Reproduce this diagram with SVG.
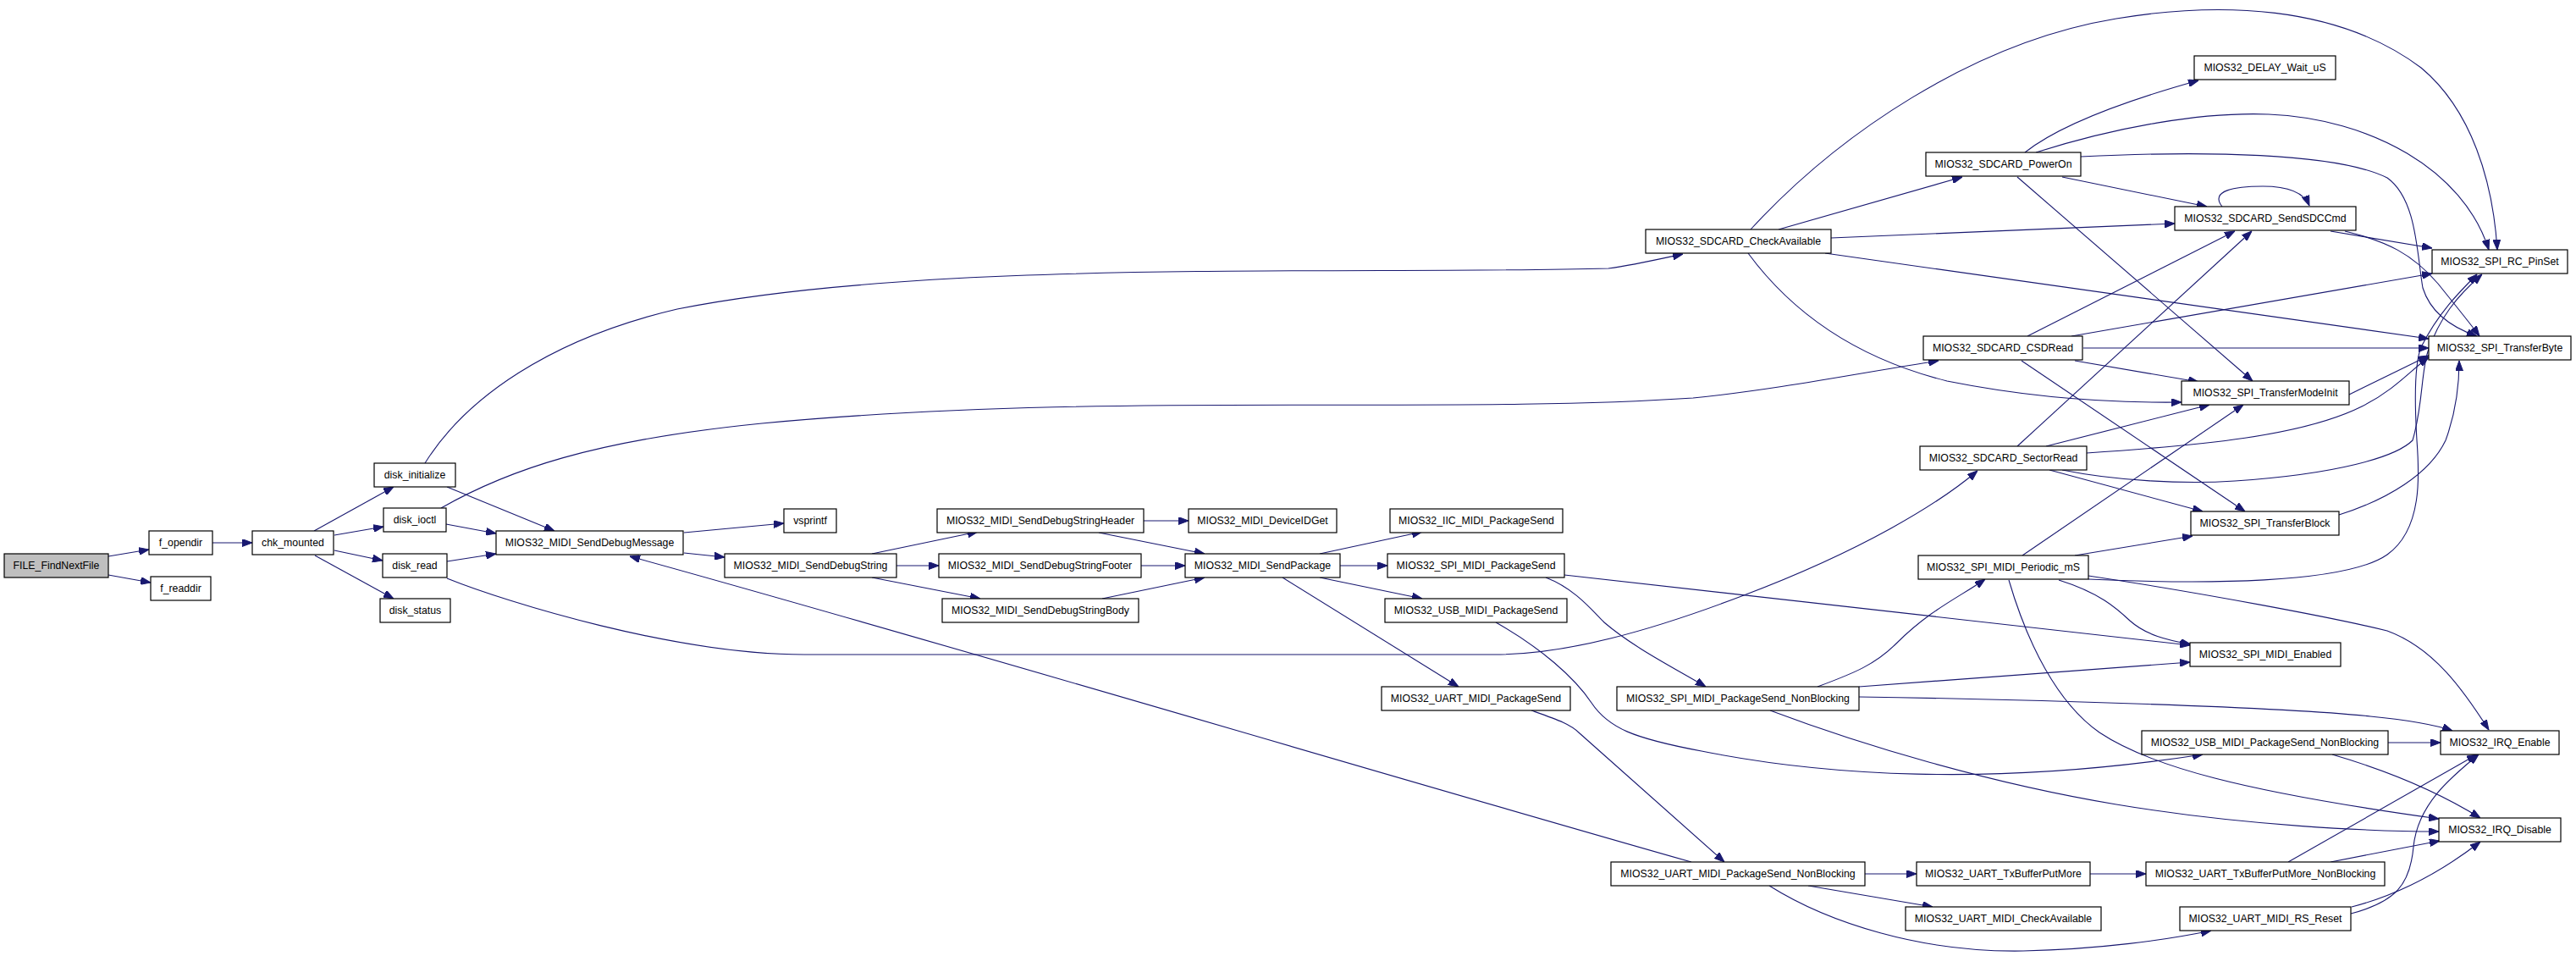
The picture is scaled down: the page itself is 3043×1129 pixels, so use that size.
<svg xmlns="http://www.w3.org/2000/svg" width="3043" height="1129" viewBox="0 0 3043 1129">
<style>
.n rect{fill:#ffffff;stroke:#000000;stroke-width:1.2}
.n text{font-family:"Liberation Sans",Arial,sans-serif;font-size:12.3px;fill:#000000;text-anchor:middle}
#n_FILE_FindNextFile rect{fill:#bfbfbf}
.e path{fill:none;stroke:#191970;stroke-width:1.1;marker-end:url(#arr)}
</style>
<defs>
<marker id="arr" markerWidth="12" markerHeight="9" refX="12" refY="4.5" orient="auto" markerUnits="userSpaceOnUse">
<path d="M0,0 L12,4.5 L0,9 z" fill="#191970" stroke="#191970" stroke-width="1"/>
</marker>
</defs>
<rect x="0" y="0" width="3043" height="1129" fill="#ffffff"/>
<g id="connectors" class="e">
<path d="M128,657 L176,649"/>
<path d="M128,679 L178,688"/>
<path d="M251,641 L298,641"/>
<path d="M371,627 L465,575"/>
<path d="M395,632 L453,622"/>
<path d="M395,650 L452,662"/>
<path d="M372,656 L465,707"/>
<path d="M528,575 L655,627"/>
<path d="M527,619 L586,630"/>
<path d="M528,663 L586,654"/>
<path d="M521,600 C600,555 700,520 900,500 C1300,462 1700,490 2000,470 C2100,460 2200,440 2290,426"/>
<path d="M502,547 C550,470 650,400 800,365 C1100,305 1600,325 1900,317 C1930,313 1960,306 1988,300"/>
<path d="M528,683 C600,712 800,773 950,773 L1766,773 C1850,773 1950,745 2060,703 C2200,650 2290,595 2336,556"/>
<path d="M808,629 L926,618"/>
<path d="M808,653 L856,658"/>
<path d="M1030,654 L1155,628"/>
<path d="M1059,668 L1109,668"/>
<path d="M1030,682 L1158,707"/>
<path d="M1351,615 L1404,615"/>
<path d="M1298,629 L1423,654"/>
<path d="M1348,668 L1400,668"/>
<path d="M1302,707 L1423,682"/>
<path d="M1559,654 L1680,628"/>
<path d="M1583,668 L1639,668"/>
<path d="M1559,682 L1680,707"/>
<path d="M1515,682 L1723,811"/>
<path d="M1848,679 L2587,762"/>
<path d="M1826,682 C1860,695 1880,720 1895,735 C1930,765 1980,790 2015,811"/>
<path d="M1767,735 C1820,765 1860,800 1880,830 C1900,860 1930,872 2010,887 C2150,915 2350,930 2602,891"/>
<path d="M1809,839 C1840,850 1855,855 1866,866 L2037,1018"/>
<path d="M1998,1018 C1600,905 1100,755 744,657"/>
<path d="M2203,1032 L2264,1032"/>
<path d="M2136,1046 L2283,1071"/>
<path d="M2090,1046 C2160,1090 2270,1125 2390,1123 C2480,1121 2560,1110 2612,1099"/>
<path d="M2469,1032 L2535,1032"/>
<path d="M2703,1018 L2926,891"/>
<path d="M2753,1018 L2882,993"/>
<path d="M2777,1079 C2830,1065 2847,1045 2851,1000 C2856,950 2895,918 2928,891"/>
<path d="M2778,1071 C2840,1055 2890,1025 2930,994"/>
<path d="M2821,877 L2883,877"/>
<path d="M2755,891 C2820,910 2880,935 2930,966"/>
<path d="M2196,823 C2400,826 2700,835 2800,846 C2850,851 2880,857 2897,863"/>
<path d="M2091,839 C2200,880 2350,925 2500,950 C2650,975 2800,982 2881,982"/>
<path d="M2147,811 C2190,795 2215,785 2240,760 C2280,720 2315,705 2345,684"/>
<path d="M2196,811 L2587,782"/>
<path d="M2467,680 C2600,700 2760,730 2820,745 C2875,765 2910,815 2940,862"/>
<path d="M2432,685 C2480,700 2500,718 2516,733 C2535,750 2560,756 2588,761"/>
<path d="M2373,685 C2395,760 2430,830 2480,865 C2540,905 2650,935 2881,967"/>
<path d="M2451,656 L2590,633"/>
<path d="M2389,656 L2650,478"/>
<path d="M2467,684 C2600,690 2770,690 2820,655 C2862,625 2858,560 2855,520 C2852,470 2852,430 2860,410 C2880,370 2905,345 2926,324"/>
<path d="M2436,555 C2500,568 2580,572 2640,568 C2760,560 2830,540 2850,520 C2862,480 2860,440 2868,415 C2882,375 2902,350 2932,324"/>
<path d="M2763,608 C2820,590 2870,560 2889,520 C2900,490 2905,460 2905,426"/>
<path d="M2101,271 L2318,209"/>
<path d="M2163,281 L2569,264"/>
<path d="M2156,299 L2869,400"/>
<path d="M2068,271 C2170,160 2330,50 2500,22 C2620,2 2760,5 2860,80 C2920,130 2945,215 2950,295"/>
<path d="M2065,299 C2110,360 2180,420 2300,450 C2400,470 2500,476 2577,475"/>
<path d="M2392,180 C2430,150 2500,122 2597,95"/>
<path d="M2405,180 C2500,150 2600,132 2680,135 C2800,140 2910,200 2940,295"/>
<path d="M2436,209 L2607,244"/>
<path d="M2458,185 C2600,178 2760,180 2820,210 C2855,235 2855,300 2862,340 C2872,372 2900,388 2926,397"/>
<path d="M2383,209 L2661,450"/>
<path d="M2625,244 C2610,225 2640,220 2673,220 C2705,220 2722,228 2728,243"/>
<path d="M2753,273 L2873,293"/>
<path d="M2770,273 C2820,285 2850,300 2880,335 C2900,360 2915,378 2929,397"/>
<path d="M2395,397 L2640,273"/>
<path d="M2447,397 L2873,323"/>
<path d="M2461,411 L2869,411"/>
<path d="M2451,426 L2597,451"/>
<path d="M2388,426 L2652,604"/>
<path d="M2383,527 L2660,273"/>
<path d="M2417,527 L2610,478"/>
<path d="M2465,535 C2600,526 2720,515 2790,480 C2830,460 2850,435 2869,422"/>
<path d="M2421,555 L2602,604"/>
<path d="M2775,466 L2869,420"/>
</g>
<g id="n_FILE_FindNextFile" class="n"><rect x="5" y="654" width="123" height="28"/><text x="66.5" y="672.3">FILE_FindNextFile</text></g>
<g id="n_f_opendir" class="n"><rect x="176" y="627" width="75" height="28"/><text x="213.5" y="645.3">f_opendir</text></g>
<g id="n_f_readdir" class="n"><rect x="178" y="681" width="71" height="28"/><text x="213.5" y="699.3">f_readdir</text></g>
<g id="n_chk_mounted" class="n"><rect x="298" y="627" width="96" height="28"/><text x="346" y="645.3">chk_mounted</text></g>
<g id="n_disk_initialize" class="n"><rect x="442" y="547" width="96" height="28"/><text x="490" y="565.3">disk_initialize</text></g>
<g id="n_disk_ioctl" class="n"><rect x="453" y="600" width="74" height="28"/><text x="490" y="618.3">disk_ioctl</text></g>
<g id="n_disk_read" class="n"><rect x="452" y="654" width="76" height="28"/><text x="490" y="672.3">disk_read</text></g>
<g id="n_disk_status" class="n"><rect x="449" y="707" width="83" height="28"/><text x="490.5" y="725.3">disk_status</text></g>
<g id="n_SendDebugMessage" class="n"><rect x="586" y="627" width="221" height="28"/><text x="696.5" y="645.3">MIOS32_MIDI_SendDebugMessage</text></g>
<g id="n_vsprintf" class="n"><rect x="926" y="601" width="62" height="28"/><text x="957" y="619.3">vsprintf</text></g>
<g id="n_SendDebugString" class="n"><rect x="856" y="654" width="203" height="28"/><text x="957.5" y="672.3">MIOS32_MIDI_SendDebugString</text></g>
<g id="n_SendDebugStringHeader" class="n"><rect x="1107" y="601" width="244" height="28"/><text x="1229" y="619.3">MIOS32_MIDI_SendDebugStringHeader</text></g>
<g id="n_DeviceIDGet" class="n"><rect x="1404" y="601" width="175" height="28"/><text x="1491.5" y="619.3">MIOS32_MIDI_DeviceIDGet</text></g>
<g id="n_SendDebugStringFooter" class="n"><rect x="1109" y="654" width="239" height="28"/><text x="1228.5" y="672.3">MIOS32_MIDI_SendDebugStringFooter</text></g>
<g id="n_SendDebugStringBody" class="n"><rect x="1113" y="707" width="232" height="28"/><text x="1229" y="725.3">MIOS32_MIDI_SendDebugStringBody</text></g>
<g id="n_SendPackage" class="n"><rect x="1400" y="654" width="183" height="28"/><text x="1491.5" y="672.3">MIOS32_MIDI_SendPackage</text></g>
<g id="n_IIC_PackageSend" class="n"><rect x="1642" y="601" width="204" height="28"/><text x="1744" y="619.3">MIOS32_IIC_MIDI_PackageSend</text></g>
<g id="n_SPI_PackageSend" class="n"><rect x="1639" y="654" width="209" height="28"/><text x="1743.5" y="672.3">MIOS32_SPI_MIDI_PackageSend</text></g>
<g id="n_USB_PackageSend" class="n"><rect x="1636" y="707" width="215" height="28"/><text x="1743.5" y="725.3">MIOS32_USB_MIDI_PackageSend</text></g>
<g id="n_UART_PackageSend" class="n"><rect x="1632" y="811" width="223" height="28"/><text x="1743.5" y="829.3">MIOS32_UART_MIDI_PackageSend</text></g>
<g id="n_SPI_PackageSend_NonBlocking" class="n"><rect x="1910" y="811" width="286" height="28"/><text x="2053" y="829.3">MIOS32_SPI_MIDI_PackageSend_NonBlocking</text></g>
<g id="n_UART_PackageSend_NonBlocking" class="n"><rect x="1903" y="1018" width="300" height="28"/><text x="2053" y="1036.3">MIOS32_UART_MIDI_PackageSend_NonBlocking</text></g>
<g id="n_UART_TxBufferPutMore" class="n"><rect x="2264" y="1018" width="205" height="28"/><text x="2366.5" y="1036.3">MIOS32_UART_TxBufferPutMore</text></g>
<g id="n_UART_CheckAvailable" class="n"><rect x="2251" y="1071" width="231" height="28"/><text x="2366.5" y="1089.3">MIOS32_UART_MIDI_CheckAvailable</text></g>
<g id="n_USB_PackageSend_NonBlocking" class="n"><rect x="2530" y="863" width="291" height="28"/><text x="2675.5" y="881.3">MIOS32_USB_MIDI_PackageSend_NonBlocking</text></g>
<g id="n_IRQ_Enable" class="n"><rect x="2883" y="863" width="140" height="28"/><text x="2953" y="881.3">MIOS32_IRQ_Enable</text></g>
<g id="n_IRQ_Disable" class="n"><rect x="2881" y="966" width="144" height="28"/><text x="2953" y="984.3">MIOS32_IRQ_Disable</text></g>
<g id="n_UART_TxBufferPutMore_NonBlocking" class="n"><rect x="2535" y="1018" width="282" height="28"/><text x="2676" y="1036.3">MIOS32_UART_TxBufferPutMore_NonBlocking</text></g>
<g id="n_UART_MIDI_RS_Reset" class="n"><rect x="2575" y="1071" width="202" height="28"/><text x="2676" y="1089.3">MIOS32_UART_MIDI_RS_Reset</text></g>
<g id="n_SPI_MIDI_Periodic_mS" class="n"><rect x="2266" y="656" width="201" height="28"/><text x="2366.5" y="674.3">MIOS32_SPI_MIDI_Periodic_mS</text></g>
<g id="n_SPI_TransferBlock" class="n"><rect x="2588" y="604" width="175" height="28"/><text x="2675.5" y="622.3">MIOS32_SPI_TransferBlock</text></g>
<g id="n_SPI_MIDI_Enabled" class="n"><rect x="2587" y="759" width="178" height="28"/><text x="2676" y="777.3">MIOS32_SPI_MIDI_Enabled</text></g>
<g id="n_SDCARD_CheckAvailable" class="n"><rect x="1944" y="271" width="219" height="28"/><text x="2053.5" y="289.3">MIOS32_SDCARD_CheckAvailable</text></g>
<g id="n_SDCARD_PowerOn" class="n"><rect x="2275" y="180" width="183" height="28"/><text x="2366.5" y="198.3">MIOS32_SDCARD_PowerOn</text></g>
<g id="n_SDCARD_CSDRead" class="n"><rect x="2272" y="397" width="188" height="28"/><text x="2366" y="415.3">MIOS32_SDCARD_CSDRead</text></g>
<g id="n_SDCARD_SectorRead" class="n"><rect x="2268" y="527" width="197" height="28"/><text x="2366.5" y="545.3">MIOS32_SDCARD_SectorRead</text></g>
<g id="n_SPI_TransferModeInit" class="n"><rect x="2577" y="450" width="198" height="28"/><text x="2676" y="468.3">MIOS32_SPI_TransferModeInit</text></g>
<g id="n_DELAY_Wait_uS" class="n"><rect x="2592" y="66" width="167" height="28"/><text x="2675.5" y="84.3">MIOS32_DELAY_Wait_uS</text></g>
<g id="n_SDCARD_SendSDCCmd" class="n"><rect x="2569" y="244" width="214" height="28"/><text x="2676" y="262.3">MIOS32_SDCARD_SendSDCCmd</text></g>
<g id="n_SPI_RC_PinSet" class="n"><rect x="2873" y="295" width="160" height="28"/><text x="2953" y="313.3">MIOS32_SPI_RC_PinSet</text></g>
<g id="n_SPI_TransferByte" class="n"><rect x="2869" y="397" width="168" height="28"/><text x="2953" y="415.3">MIOS32_SPI_TransferByte</text></g>
</svg>
